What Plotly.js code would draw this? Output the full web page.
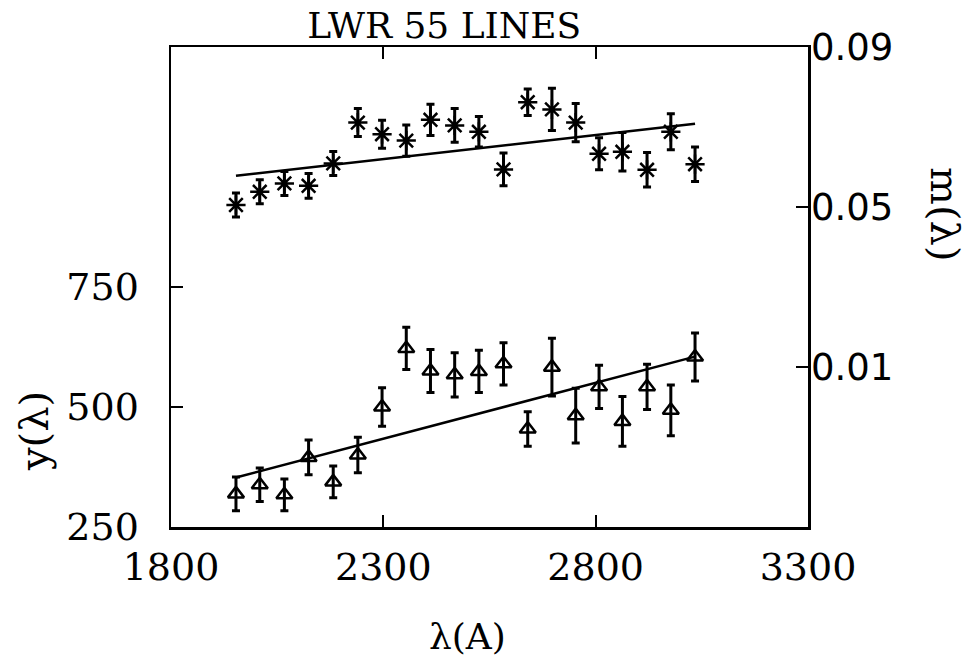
<!DOCTYPE html>
<html>
<head>
<meta charset="utf-8">
<script src="https://cdn.plot.ly/plotly-3.0.1.min.js"></script>
<style>html,body{margin:0;padding:0;background:#fff;}#chart{width:972px;height:661px;}</style>
</head>
<body>
<div id="chart"></div>
<script>
// wavelengths (Å)
const lambdaX = [1953, 2009, 2067, 2124, 2182, 2240, 2297, 2354, 2411, 2468, 2525, 2583, 2640, 2697, 2753, 2808, 2863, 2921, 2977, 3034];
// m(λ) series (asterisks, right axis)
const mVals = [0.0505, 0.0538, 0.0559, 0.0553, 0.0609, 0.0711, 0.0682, 0.0666, 0.0718, 0.0704, 0.0688, 0.0594, 0.0762, 0.0744, 0.0711, 0.0633, 0.0638, 0.0593, 0.0688, 0.0607];
const mErr = [0.0030, 0.0030, 0.0030, 0.0031, 0.0030, 0.0035, 0.0035, 0.0039, 0.0039, 0.0042, 0.0038, 0.0041, 0.0033, 0.0053, 0.0048, 0.0040, 0.0048, 0.0043, 0.0045, 0.0043];
// y(λ) series (triangles, left axis)
const yVals = [319, 338, 317, 395, 344, 400, 500, 622, 575, 567, 574, 590, 454, 583, 482, 542, 470, 542, 493, 604];
const yErr = [35, 35, 33, 36, 33, 37, 40, 44, 45, 46, 44, 44, 36, 60, 57, 45, 52, 47, 53, 50];
// fitted lines
const fitX = [1953, 3034];
const fitM = [0.0578, 0.0708];
const fitY = [353, 605];
// ticks
const xTicks = [1800, 2300, 2800, 3300];
const yTicks = [250, 500, 750];
const y2Ticks = [0.01, 0.05, 0.09];

const serif = "DejaVu Serif";
const traces = [
  {x: fitX, y: fitY, mode: 'lines', line: {color: 'black', width: 2.5}, yaxis: 'y', showlegend: false, hoverinfo: 'skip'},
  {x: fitX, y: fitM, mode: 'lines', line: {color: 'black', width: 2.5}, yaxis: 'y2', showlegend: false, hoverinfo: 'skip'},
  {x: lambdaX, y: yVals, mode: 'markers', yaxis: 'y', showlegend: false,
   marker: {symbol: 'triangle-up-open', size: 14, color: 'black', line: {color: 'black', width: 2.5}},
   error_y: {type: 'data', array: yErr, visible: true, color: 'black', thickness: 3, width: 4}},
  {x: lambdaX, y: mVals, mode: 'markers', yaxis: 'y2', showlegend: false,
   marker: {symbol: 'asterisk-open', size: 16, color: 'black', line: {color: 'black', width: 2.5}},
   error_y: {type: 'data', array: mErr, visible: true, color: 'black', thickness: 3, width: 4}}
];

const layout = {
  width: 972, height: 661,
  paper_bgcolor: 'white', plot_bgcolor: 'white',
  margin: {l: 171, r: 164, t: 47, b: 134, pad: 0},
  showlegend: false,
  title: {text: 'LWR 55 LINES', font: {family: serif, size: 36, color: 'black'},
          xref: 'container', x: 0.457, xanchor: 'center', yref: 'container', y: 0.962, yanchor: 'middle'},
  xaxis: {range: [1800, 3300], tickvals: xTicks, ticktext: xTicks.map(String), ticks: 'inside', ticklen: 12, tickwidth: 2,
          tickcolor: 'black', showline: true, linecolor: 'black', linewidth: 2.5, mirror: 'ticks', showgrid: false, zeroline: false,
          tickfont: {family: serif, size: 38, color: 'black'}, ticklabelstandoff: 5},
  yaxis: {range: [250, 1250], tickvals: yTicks, ticktext: yTicks.map(String), ticks: 'inside', ticklen: 12, tickwidth: 2,
          tickcolor: 'black', showline: true, linecolor: 'black', linewidth: 2.5, mirror: false, showgrid: false, zeroline: false,
          tickfont: {family: serif, size: 38, color: 'black'}, ticklabelstandoff: 22},
  yaxis2: {range: [-0.03, 0.09], overlaying: 'y', side: 'right', tickvals: y2Ticks, ticktext: ['0.01', '0.05', '0.09'],
           ticks: 'inside', ticklen: 12, tickwidth: 2, tickcolor: 'black', showline: true, linecolor: 'black', linewidth: 2.5,
           showgrid: false, zeroline: false, tickfont: {family: 'DejaVu Sans', size: 37, color: 'black'}, ticklabelstandoff: -7},
  annotations: [
    {text: 'λ(A)', xref: 'paper', yref: 'paper', x: 0.4647, y: -0.229, xanchor: 'center', yanchor: 'middle', showarrow: false,
     font: {family: serif, size: 36, color: 'black'}},
    {text: 'y(λ)', xref: 'paper', yref: 'paper', x: -0.215, y: 0.2, xanchor: 'center', yanchor: 'middle', showarrow: false,
     textangle: -90, font: {family: serif, size: 40, color: 'black'}},
    {text: 'm(λ)', xref: 'paper', yref: 'paper', x: 1.215, y: 0.65, xanchor: 'center', yanchor: 'middle', showarrow: false,
     textangle: 90, font: {family: serif, size: 40, color: 'black'}}
  ]
};

Plotly.newPlot('chart', traces, layout, {displayModeBar: false, staticPlot: true});
</script>
</body>
</html>
